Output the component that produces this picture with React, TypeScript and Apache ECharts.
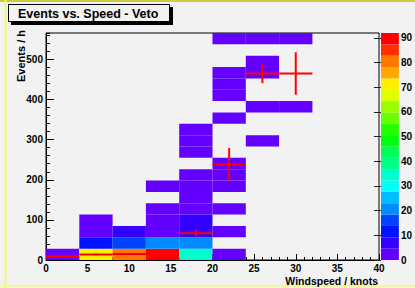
import React, { useEffect, useRef } from 'react';
import * as echarts from 'echarts';

// ---- histogram binning ----
const xBinWidth = 4; // knots per x bin
const yBinWidth = 28.3; // events / h per y bin
const xMax = 40;
const yMax = 566;
const zMax = 92;

// 2D histogram cells: [x bin index, y bin index, entries]
const cells: [number, number, number][] = [
  [0, 0, 2],
  [1, 0, 71], [1, 1, 11], [1, 2, 2], [1, 3, 2],
  [2, 0, 80], [2, 1, 16], [2, 2, 7],
  [3, 0, 90], [3, 1, 20], [3, 2, 2], [3, 3, 2], [3, 4, 2], [3, 6, 2],
  [4, 0, 34], [4, 1, 20], [4, 2, 7], [4, 3, 7], [4, 4, 2], [4, 5, 2], [4, 6, 2], [4, 7, 2],
  [4, 9, 2], [4, 10, 2], [4, 11, 2],
  [5, 0, 2], [5, 2, 2], [5, 4, 2], [5, 6, 2], [5, 7, 2], [5, 8, 2], [5, 12, 2],
  [5, 14, 2], [5, 15, 2], [5, 16, 2], [5, 19, 2],
  [6, 10, 2], [6, 13, 2], [6, 16, 2], [6, 17, 2], [6, 19, 2],
  [7, 13, 2], [7, 19, 2],
];

// profile overlay (mean events/h per windspeed bin, with error)
const profX = [2, 6, 10, 14, 18, 22, 26, 30];
const profMean = [9, 14, 15, 18, 67, 238, 465, 465];
const profErr = [1.5, 2, 2, 2, 8, 41, 24, 53];

// ROOT "pretty" palette, 20 contour bands (low -> high)
const bandColors = [
  '#6300ff', '#3300ff', '#0014ff', '#0044ff', '#008bff',
  '#00bbff', '#00fffc', '#00ffcc', '#00ff85', '#00ff55',
  '#00ff0e', '#22ff00', '#69ff00', '#99ff00', '#e0ff00',
  '#ffee00', '#ffa700', '#ff7700', '#ff3000', '#ff0000',
];

const titleText = 'Events vs. Speed - Veto';
const xTitle = 'Windspeed / knots';
const yTitle = 'Events / h';

const FONT = 'Liberation Sans, Arial, Helvetica, sans-serif';

function colorFor(v: number) {
  const step = zMax / bandColors.length;
  const i = Math.min(bandColors.length - 1, Math.max(0, Math.floor(v / step)));
  return bandColors[i];
}

export default function App() {
  const ref = useRef<HTMLDivElement>(null);
  useEffect(() => {
    if (!ref.current) return;
    const chart = echarts.init(ref.current, undefined, { renderer: 'svg' });
    const labelStyle = { color: '#000', fontFamily: FONT, fontWeight: 'bold' as const, fontSize: 10 };
    const option: any = {
      animation: false,
      backgroundColor: '#f2f2f2',
      grid: [
        { left: 46, top: 33, width: 333, height: 227, show: true, borderColor: '#000', borderWidth: 1, backgroundColor: '#f2f2f2' },
        { left: 381, top: 33, width: 19, height: 227, show: false },
      ],
      xAxis: [
        {
          type: 'value', gridIndex: 0, min: 0, max: xMax, interval: 5,
          axisLine: { show: true, lineStyle: { color: '#000', width: 1 } },
          axisTick: { show: true, inside: true, length: 6, lineStyle: { color: '#000' } },
          minorTick: { show: true, splitNumber: 5, length: 3, lineStyle: { color: '#000' } },
          splitLine: { show: false },
          axisLabel: { ...labelStyle, margin: 3 },
        },
        { type: 'value', gridIndex: 1, min: 0, max: 1, show: false },
      ],
      yAxis: [
        {
          type: 'value', gridIndex: 0, position: 'left', min: 0, max: yMax, interval: 100,
          axisLine: { show: true, lineStyle: { color: '#000', width: 1 } },
          axisTick: { show: true, inside: true, length: 8, lineStyle: { color: '#000' } },
          splitLine: { show: false },
          axisLabel: { ...labelStyle, margin: 3, showMaxLabel: false, formatter: (v: number) => (v % 100 === 0 ? String(v) : '') },
        },
        {
          type: 'value', gridIndex: 0, position: 'left', offset: 0, min: 0, max: yMax, interval: 20,
          axisLine: { show: false },
          axisTick: { show: true, inside: true, length: 4, lineStyle: { color: '#000' } },
          splitLine: { show: false },
          axisLabel: { show: false },
        },
        {
          type: 'value', gridIndex: 1, position: 'right', min: 0, max: zMax, interval: 10,
          axisLine: { show: false },
          axisTick: { show: true, inside: true, length: 7, lineStyle: { color: '#222' } },
          splitLine: { show: false },
          axisLabel: { ...labelStyle, margin: 2, showMaxLabel: false, formatter: (v: number) => (v % 10 === 0 ? String(v) : '') },
        },
      ],
      series: [
        {
          type: 'custom', xAxisIndex: 0, yAxisIndex: 0, z: 2,
          data: cells,
          renderItem: (params: any, api: any) => {
            const c = api.value(0), r = api.value(1), n = api.value(2);
            const p0 = api.coord([c * xBinWidth, (r + 1) * yBinWidth]);
            const p1 = api.coord([(c + 1) * xBinWidth, r * yBinWidth]);
            return {
              type: 'rect',
              shape: { x: p0[0], y: p0[1], width: p1[0] - p0[0], height: p1[1] - p0[1] },
              style: { fill: colorFor(n) },
            };
          },
        },
        {
          type: 'custom', xAxisIndex: 0, yAxisIndex: 0, z: 5,
          data: profX.map((x, i) => [x, profMean[i], profErr[i]]),
          renderItem: (params: any, api: any) => {
            const x = api.value(0), m = api.value(1), e = api.value(2);
            const l = api.coord([x - xBinWidth / 2, m]);
            const r = api.coord([x + xBinWidth / 2, m]);
            const t = api.coord([x, m + e]);
            const b = api.coord([x, m - e]);
            const st = { stroke: '#f00', lineWidth: 2 };
            return {
              type: 'group',
              children: [
                { type: 'line', shape: { x1: l[0], y1: l[1], x2: r[0], y2: r[1] }, style: st },
                { type: 'line', shape: { x1: t[0], y1: t[1], x2: b[0], y2: b[1] }, style: st },
              ],
            };
          },
        },
        {
          type: 'custom', xAxisIndex: 1, yAxisIndex: 2, z: 2,
          data: bandColors.map((_, i) => [i]),
          renderItem: (params: any, api: any) => {
            const i = api.value(0);
            const step = zMax / bandColors.length;
            const p0 = api.coord([0, (i + 1) * step]);
            const p1 = api.coord([1, i * step]);
            return {
              type: 'rect',
              shape: { x: p0[0], y: p0[1], width: p1[0] - p0[0], height: p1[1] - p0[1] },
              style: { fill: bandColors[i] },
            };
          },
        },
      ],
      graphic: [
        { type: 'line', shape: { x1: 0, y1: 1, x2: 415, y2: 1 }, style: { stroke: '#cccc44', lineWidth: 2 }, z: 10 },
        { type: 'line', shape: { x1: 5.5, y1: 0, x2: 5.5, y2: 288 }, style: { stroke: '#f6f66a', lineWidth: 2 }, z: 10 },
        { type: 'line', shape: { x1: 0, y1: 286, x2: 415, y2: 286 }, style: { stroke: '#f6f6a0', lineWidth: 2 }, z: 10 },
        { type: 'rect', shape: { x: 11, y: 7, width: 162, height: 18 }, style: { fill: '#000' }, z: 10 },
        { type: 'rect', shape: { x: 8.5, y: 4.5, width: 161, height: 17 }, style: { fill: '#f2f2f2', stroke: '#000', lineWidth: 1 }, z: 11 },
        {
          type: 'text', x: 18, y: 13.5, z: 12,
          style: { text: titleText, fill: '#000', font: `bold 12.5px ${FONT}`, textAlign: 'left', textVerticalAlign: 'middle' },
        },
        {
          type: 'text', x: 21, y: 30, rotation: Math.PI / 2, z: 12,
          style: { text: yTitle, fill: '#000', font: `bold 11px ${FONT}`, textAlign: 'right', textVerticalAlign: 'middle' },
        },
        {
          type: 'text', x: 378, y: 281, z: 12,
          style: { text: xTitle, fill: '#000', font: `bold 10.5px ${FONT}`, textAlign: 'right', textVerticalAlign: 'middle' },
        },
      ],
    };
    chart.setOption(option);
    return () => chart.dispose();
  }, []);
  return <div ref={ref} style={{ position: 'absolute', left: 0, top: 0, width: 415, height: 288 }} />;
}
